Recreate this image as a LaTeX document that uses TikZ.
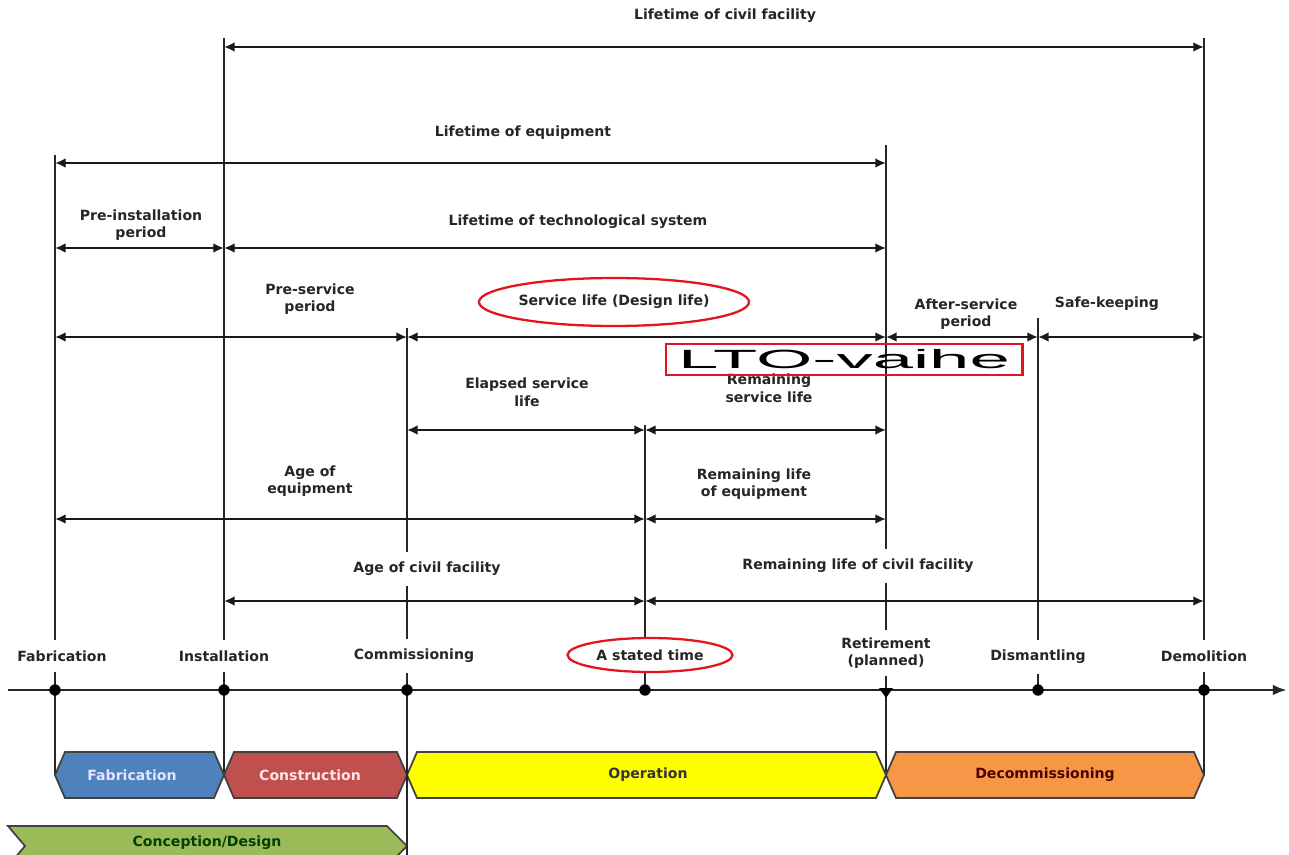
\documentclass[tikz,border=0pt]{standalone}
\usepackage{fontspec}
\usepackage{graphicx}
\setmainfont{DejaVu Sans}
\newfontfamily\ltofont{Liberation Sans}
\usetikzlibrary{arrows.meta,shapes.geometric}

\definecolor{fabblue}{HTML}{4F81BD}
\definecolor{conred}{HTML}{C0504D}
\definecolor{opyellow}{HTML}{FFFF00}
\definecolor{decorange}{HTML}{F79646}
\definecolor{desgreen}{HTML}{9BBB59}
\definecolor{markred}{HTML}{E3141B}

\def\pxu{0.02cm}

\tikzset{
  lbl/.style={font=\fontsize{8}{10}\selectfont\bfseries, text=black!85, fill=white,
    inner xsep=2pt, inner ysep=1.5pt, align=center},
  widegap/.style={inner ysep=6pt},
  span/.style={line width=1.2pt, black!90, {Latex[length=6pt,width=5.5pt]}-{Latex[length=6pt,width=5.5pt]}},
  vline/.style={line width=1.3pt, black!85},
  evdot/.style={circle, fill=black, inner sep=0pt, minimum size=6.5pt},
  phase/.style={draw=black!75, line width=1pt},
  phasetxt/.style={font=\fontsize{8}{10}\selectfont\bfseries},
  redring/.style={ellipse, draw=markred, line width=1.3pt, inner sep=0pt}
}

\begin{document}
\begin{tikzpicture}[x=\pxu, y=-\pxu]
  \clip (0,0) rectangle (1289,855);
  \fill[white] (0,0) rectangle (1289,855);

  % time points on the axis
  \coordinate (tFab) at (55,690);
  \coordinate (tInst) at (224,690);
  \coordinate (tComm) at (407,690);
  \coordinate (tStat) at (645,690);
  \coordinate (tRet) at (886,690);
  \coordinate (tDism) at (1038,690);
  \coordinate (tDemo) at (1204,690);

  % rows of the spans
  \coordinate (rowA) at (0,47);
  \coordinate (rowB) at (0,163);
  \coordinate (rowC) at (0,248);
  \coordinate (rowD) at (0,337);
  \coordinate (rowE) at (0,430);
  \coordinate (rowF) at (0,519);
  \coordinate (rowG) at (0,601);

  % vertical lines
  \draw[vline] (55,155) -- (tFab) -- (55,775);
  \draw[vline] (224,38) -- (tInst) -- (224,775);
  \draw[vline] (407,328) -- (tComm) -- (407,855);
  \draw[vline] (645,425) -- (tStat);
  \draw[vline] (886,145) -- (tRet) -- (886,775);
  \draw[vline] (1038,318) -- (tDism);
  \draw[vline] (1204,38) -- (tDemo) -- (1204,775);

  % spans
  \draw[span] (tInst |- rowA) -- (tDemo |- rowA);
  \draw[span] (tFab |- rowB) -- (tRet |- rowB);
  \draw[span] (tFab |- rowC) -- (tInst |- rowC);
  \draw[span] (tInst |- rowC) -- (tRet |- rowC);
  \draw[span] (tFab |- rowD) -- (tComm |- rowD);
  \draw[span] (tComm |- rowD) -- (tRet |- rowD);
  \draw[span] (tRet |- rowD) -- (tDism |- rowD);
  \draw[span] (tDism |- rowD) -- (tDemo |- rowD);
  \draw[span] (tComm |- rowE) -- (tStat |- rowE);
  \draw[span] (tStat |- rowE) -- (tRet |- rowE);
  \draw[span] (tFab |- rowF) -- (tStat |- rowF);
  \draw[span] (tStat |- rowF) -- (tRet |- rowF);
  \draw[span] (tInst |- rowG) -- (tStat |- rowG);
  \draw[span] (tStat |- rowG) -- (tDemo |- rowG);

  % span labels
  \node[lbl] (lCivil) at (725,16) {Lifetime of civil facility};
  \node[lbl] (lEquip) at (523,133) {Lifetime of equipment};
  \node[lbl] (lPreInst) at (141,225) {Pre-installation\\period};
  \node[lbl] (lTech) at (578,222) {Lifetime of technological system};
  \node[lbl] (lPreServ) at (310,299) {Pre-service\\period};
  \node[lbl, redring, fill=white, minimum width=238*\pxu, minimum height=48*\pxu] (lServ) at (614,302) {Service life (Design life)};
  \node[lbl] (lAfter) at (966,314) {After-service\\period};
  \node[lbl] (lSafe) at (1107,304) {Safe-keeping};
  \node[lbl] (lElap) at (527,392) {Elapsed service\\life};
  \node[lbl] (lRemServ) at (769,388) {Remaining\\service life};
  \node[lbl] (lAgeEq) at (310,481) {Age of\\equipment};
  \node[lbl] (lRemEq) at (754,484) {Remaining life\\of equipment};
  \node[lbl, widegap] (lAgeCiv) at (427,569) {Age of civil facility};
  \node[lbl, widegap] (lRemCiv) at (858,566) {Remaining life of civil facility};

  % event labels
  \node[lbl, widegap] (eFab) at (62,656) {Fabrication};
  \node[lbl, widegap] (eInst) at (224,656) {Installation};
  \node[lbl, widegap] (eComm) at (414,656) {Commissioning};
  \node[lbl, redring, fill=white, minimum width=165*\pxu, minimum height=34*\pxu] (eStat) at (650,655) {A stated time};
  \node[lbl, inner ysep=4pt] (eRet) at (886,653) {Retirement\\(planned)};
  \node[lbl, widegap] (eDism) at (1038,657) {Dismantling};
  \node[lbl, widegap] (eDemo) at (1204,656) {Demolition};

  % time axis
  \coordinate (axL) at (8,690);
  \coordinate (axR) at (1287,690);
  \draw[line width=1.6pt, black!85, -{Latex[length=8pt,width=6pt]}] (axL) -- (axR);
  \foreach \p in {tFab,tInst,tComm,tStat,tDism,tDemo}
    \node[evdot] at (\p) {};
  \fill[black] (879,688) -- (893,688) -- (886,698) -- cycle;

  % phases
  \filldraw[phase, fill=fabblue] (55,775) -- (65,752) -- (214,752) -- (224,775) -- (214,798) -- (65,798) -- cycle;
  \filldraw[phase, fill=conred] (224,775) -- (234,752) -- (397,752) -- (407,775) -- (397,798) -- (234,798) -- cycle;
  \filldraw[phase, fill=opyellow] (407,775) -- (417,752) -- (876,752) -- (886,775) -- (876,798) -- (417,798) -- cycle;
  \filldraw[phase, fill=decorange] (886,775) -- (896,752) -- (1194,752) -- (1204,775) -- (1194,798) -- (896,798) -- cycle;
  \filldraw[phase, fill=desgreen] (8,826) -- (387,826) -- (407,846) -- (387,866) -- (8,866) -- (25,846) -- cycle;
  \draw[vline] (407,760) -- (407,855);
  \node[phasetxt, text=blue!10] (pFab) at (132,775) {Fabrication};
  \node[phasetxt, text=red!10] (pCon) at (310,775) {Construction};
  \node[phasetxt, text=black!80] (pOp) at (648,775) {Operation};
  \node[phasetxt, text=black!70!red] (pDec) at (1045,775) {Decommissioning};
  \node[phasetxt, text=black!75!green] (pDes) at (207,843) {Conception/Design};

  % LTO box
  \node[draw=markred, line width=1.7pt, minimum width=356*\pxu, minimum height=31*\pxu, inner sep=0pt]
    (lto) at (844,359.5) {\ltofont\fontsize{15}{15}\selectfont\scalebox{2.75}[1]{LTO-vaihe}};
\end{tikzpicture}
\end{document}
